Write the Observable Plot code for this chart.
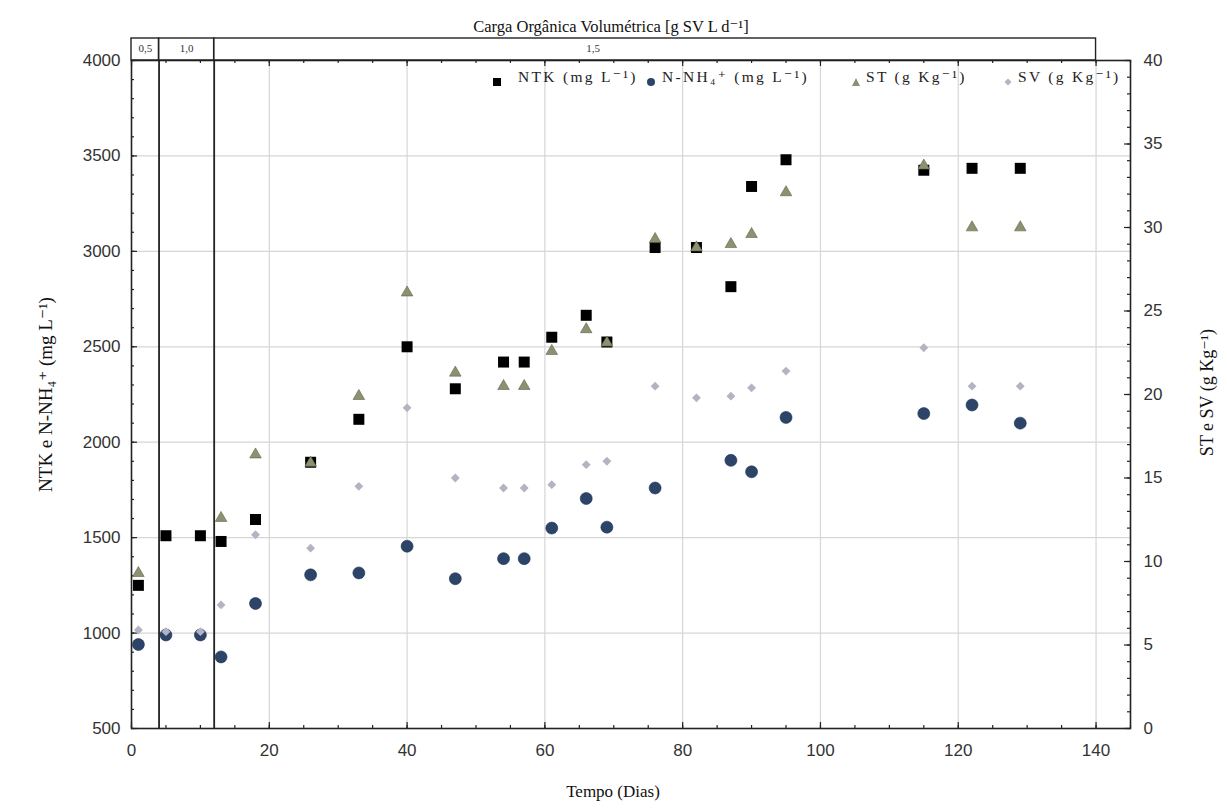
<!DOCTYPE html>
<html><head><meta charset="utf-8">
<script src="https://cdn.jsdelivr.net/npm/d3@7"></script>
<script src="https://cdn.jsdelivr.net/npm/@observablehq/plot@0.6"></script>
<style>
body{margin:0;background:#fff;}
#wrap{position:relative;width:1227px;height:811px;}
#legend{position:absolute;top:0;left:0;font-family:"Liberation Serif","DejaVu Serif",serif;font-size:15.5px;letter-spacing:2.3px;color:#222}
#legend .sym{position:absolute;top:73px;width:10px;height:10px}
#legend .txt{position:absolute;top:68px;line-height:18px;white-space:nowrap}
svg text.wide{letter-spacing:1.9px}
</style></head><body><div id="wrap"><div id="legend"></div></div>
<script>
// ---- data ----
const ntkDays = [1,5,10,13,18,26,33,40,47,54,57,61,66,69,76,82,87,90,95,115,122,129];
const ntk = [1250,1510,1510,1480,1595,1895,2120,2500,2280,2420,2420,2550,2665,2525,3020,3020,2815,3340,3480,3425,3435,3435];
const nh4Days = [1,5,10,13,18,26,33,40,47,54,57,61,66,69,76,87,90,95,115,122,129];
const nh4 = [940,990,990,875,1155,1305,1315,1455,1285,1390,1390,1550,1705,1555,1760,1905,1845,2130,2150,2195,2100];
const stDays = [1,13,18,26,33,40,47,54,57,61,66,69,76,82,87,90,95,115,122,129];
const st = [9.3,12.6,16.4,15.9,19.9,26.1,21.3,20.5,20.5,22.6,23.9,23.1,29.3,28.8,29.0,29.6,32.1,33.7,30.0,30.0];
const svDays = [1,5,10,13,18,26,33,40,47,54,57,61,66,69,76,82,87,90,95,115,122,129];
const sv = [5.9,5.8,5.8,7.4,11.6,10.8,14.5,19.2,15.0,14.4,14.4,14.6,15.8,16.0,20.5,19.8,19.9,20.4,21.4,22.8,20.5,20.5];

const phaseStart = [0,4,12];
const phaseEnd = [4,12,140];
const phaseLabel = ["0,5","1,0","1,5"];
const phaseLabelDay = [2,8,67];

const xTicks = [0,20,40,60,80,100,120,140];
const yTicks = [500,1000,1500,2000,2500,3000,3500,4000];
const rightTicks = [0,5,10,15,20,25,30,35,40];

const title = "Carga Orgânica Volumétrica [g SV L d⁻¹]";
const xLabel = "Tempo (Dias)";
const yLabel = "NTK e N-NH₄⁺ (mg L⁻¹)";
const y2Label = "ST e SV (g Kg⁻¹)";
const legendLabels = ["NTK (mg L⁻¹)","N-NH₄⁺ (mg L⁻¹)","ST (g Kg⁻¹)","SV (g Kg⁻¹)"];

// ---- layout / scales ----
const W = 1227, H = 811, mL = 131, mR = 97, mT = 60, mB = 83;
const xDomain = [0,145];
const yDomain = [500,4000];
const rDomain = [0,40];
const toLeft = v => yDomain[0] + (v - rDomain[0]) * (yDomain[1]-yDomain[0])/(rDomain[1]-rDomain[0]);
const fromLeft = d => Math.round((d - yDomain[0]) * (rDomain[1]-rDomain[0])/(yDomain[1]-yDomain[0]));
const yPerPx = (yDomain[1]-yDomain[0])/(H-mT-mB);
const xPerPx = (xDomain[1]-xDomain[0])/(W-mL-mR);
const stripTop = yDomain[1] + 22*yPerPx, stripLabelY = yDomain[1] + 12*yPerPx;

const xMinor = d3.range(0,146,5);
const yMinor = d3.range(500,4001,100);
const rMinor = d3.range(0,41,1).map(toLeft);
const minorLen = 3, majorLen = 6;

const serif = "Liberation Serif, DejaVu Serif, serif";
const C = {ntk:"#000000", nh4:"#2b4468", st:"#8b9171", stStroke:"#5f6448", sv:"#b4b3c3"};
const tickStyle = {stroke:"#222", strokeWidth:1.2};

const chart = Plot.plot({
  width:W, height:H,
  marginLeft:mL, marginRight:mR, marginTop:mT, marginBottom:mB,
  x:{domain:xDomain},
  y:{domain:yDomain},
  style:{fontFamily:"Liberation Sans, Arial, sans-serif", background:"white", overflow:"visible"},
  marks:[
    Plot.gridX(xTicks.slice(1), {stroke:"#d6d6d6", strokeOpacity:1, strokeWidth:1.2}),
    Plot.gridY(yTicks.slice(1,-1), {stroke:"#d6d6d6", strokeOpacity:1, strokeWidth:1.2}),
    // tick labels
    Plot.axisX(xTicks, {tickSize:0, tickPadding:15, fontSize:17, fill:"#333", label:null, tickFormat:"d"}),
    Plot.axisY(yTicks, {tickSize:0, tickPadding:11, fontSize:17, fill:"#333", label:null, tickFormat:"d"}),
    Plot.axisY(rightTicks.map(toLeft), {anchor:"right", tickSize:0, tickPadding:13, fontSize:17, fill:"#333", tickFormat:fromLeft, label:null}),
    // inward ticks: bottom & top
    Plot.ruleX(xMinor, {y1:yDomain[0], y2:yDomain[0] + minorLen*yPerPx, ...tickStyle}),
    Plot.ruleX(xTicks, {y1:yDomain[0], y2:yDomain[0] + majorLen*yPerPx, ...tickStyle}),
    Plot.ruleX(xMinor, {y1:yDomain[1], y2:yDomain[1] - minorLen*yPerPx, ...tickStyle}),
    Plot.ruleX(xTicks, {y1:yDomain[1], y2:yDomain[1] - majorLen*yPerPx, ...tickStyle}),
    // inward ticks: left & right
    Plot.ruleY(yMinor, {x1:xDomain[0], x2:xDomain[0] + minorLen*xPerPx, ...tickStyle}),
    Plot.ruleY(yTicks, {x1:xDomain[0], x2:xDomain[0] + majorLen*xPerPx, ...tickStyle}),
    Plot.ruleY(rMinor, {x1:xDomain[1], x2:xDomain[1] - minorLen*xPerPx, ...tickStyle}),
    Plot.ruleY(rightTicks.map(toLeft), {x1:xDomain[1], x2:xDomain[1] - majorLen*xPerPx, ...tickStyle}),
    Plot.frame({stroke:"#222", strokeWidth:1.6}),
    // phase strip
    Plot.rect(phaseStart, {x1:(d,i)=>phaseStart[i], x2:(d,i)=>phaseEnd[i], y1:yDomain[1], y2:stripTop, fill:"none", stroke:"#222", strokeWidth:1.4}),
    Plot.ruleX(phaseStart.slice(1), {y1:yDomain[0], y2:yDomain[1], stroke:"#222", strokeWidth:1.8}),
    Plot.text(phaseLabel, {x:phaseLabelDay, y:stripLabelY, fontFamily:serif, fontSize:11, fill:"#333"}),
    // data
    Plot.dot(nh4Days, {x:d=>d, y:(d,i)=>nh4[i], r:6, fill:C.nh4, stroke:"#1e3350", strokeWidth:0.6}),
    Plot.dot(ntkDays, {x:d=>d, y:(d,i)=>ntk[i], symbol:"square", r:6.2, fill:C.ntk}),
    Plot.dot(stDays, {x:d=>d, y:(d,i)=>toLeft(st[i]), symbol:"triangle", r:4.3, fill:C.st, stroke:C.stStroke, strokeWidth:0.6}),
    Plot.dot(svDays, {x:d=>d, y:(d,i)=>toLeft(sv[i]), symbol:"diamond2", r:4, fill:C.sv}),
    // titles
    Plot.text([title], {frameAnchor:"top", dy:-40, dx:-20, fontFamily:serif, fontSize:16.5, fill:"#111", className:"wide"}),
    Plot.text([xLabel], {frameAnchor:"bottom", dy:68, dx:-18, fontFamily:serif, fontSize:17, fill:"#111"}),
    Plot.text([yLabel], {frameAnchor:"left", textAnchor:"middle", rotate:-90, dx:-86, fontFamily:serif, fontSize:19, fill:"#111", className:"wide"}),
    Plot.text([y2Label], {frameAnchor:"right", textAnchor:"middle", rotate:-90, dx:77, dy:-2, fontFamily:serif, fontSize:18, fill:"#111", className:"wide"})
  ]
});
document.getElementById("wrap").prepend(chart);

// legend overlay
const symbols = [
  `<svg width="10" height="10"><rect x="1" y="1" width="8" height="8" fill="${C.ntk}"/></svg>`,
  `<svg width="10" height="10"><circle cx="5" cy="5" r="4" fill="${C.nh4}"/></svg>`,
  `<svg width="10" height="10"><path d="M5,1 L9,9 L1,9Z" fill="${C.st}"/></svg>`,
  `<svg width="10" height="10"><path d="M5,1.5 L8.5,5 L5,8.5 L1.5,5Z" fill="${C.sv}"/></svg>`
];
const legendSymX = [492, 646, 851, 1003];
const legendTxtX = [518, 662, 866, 1018];
const leg = document.getElementById("legend");
legendLabels.forEach((t,i)=>{
  const s = document.createElement("div");
  s.className = "sym"; s.style.left = legendSymX[i] + "px"; s.innerHTML = symbols[i];
  const tx = document.createElement("div");
  tx.className = "txt"; tx.style.left = legendTxtX[i] + "px"; tx.textContent = t;
  leg.appendChild(s); leg.appendChild(tx);
});
</script>
</body></html>
